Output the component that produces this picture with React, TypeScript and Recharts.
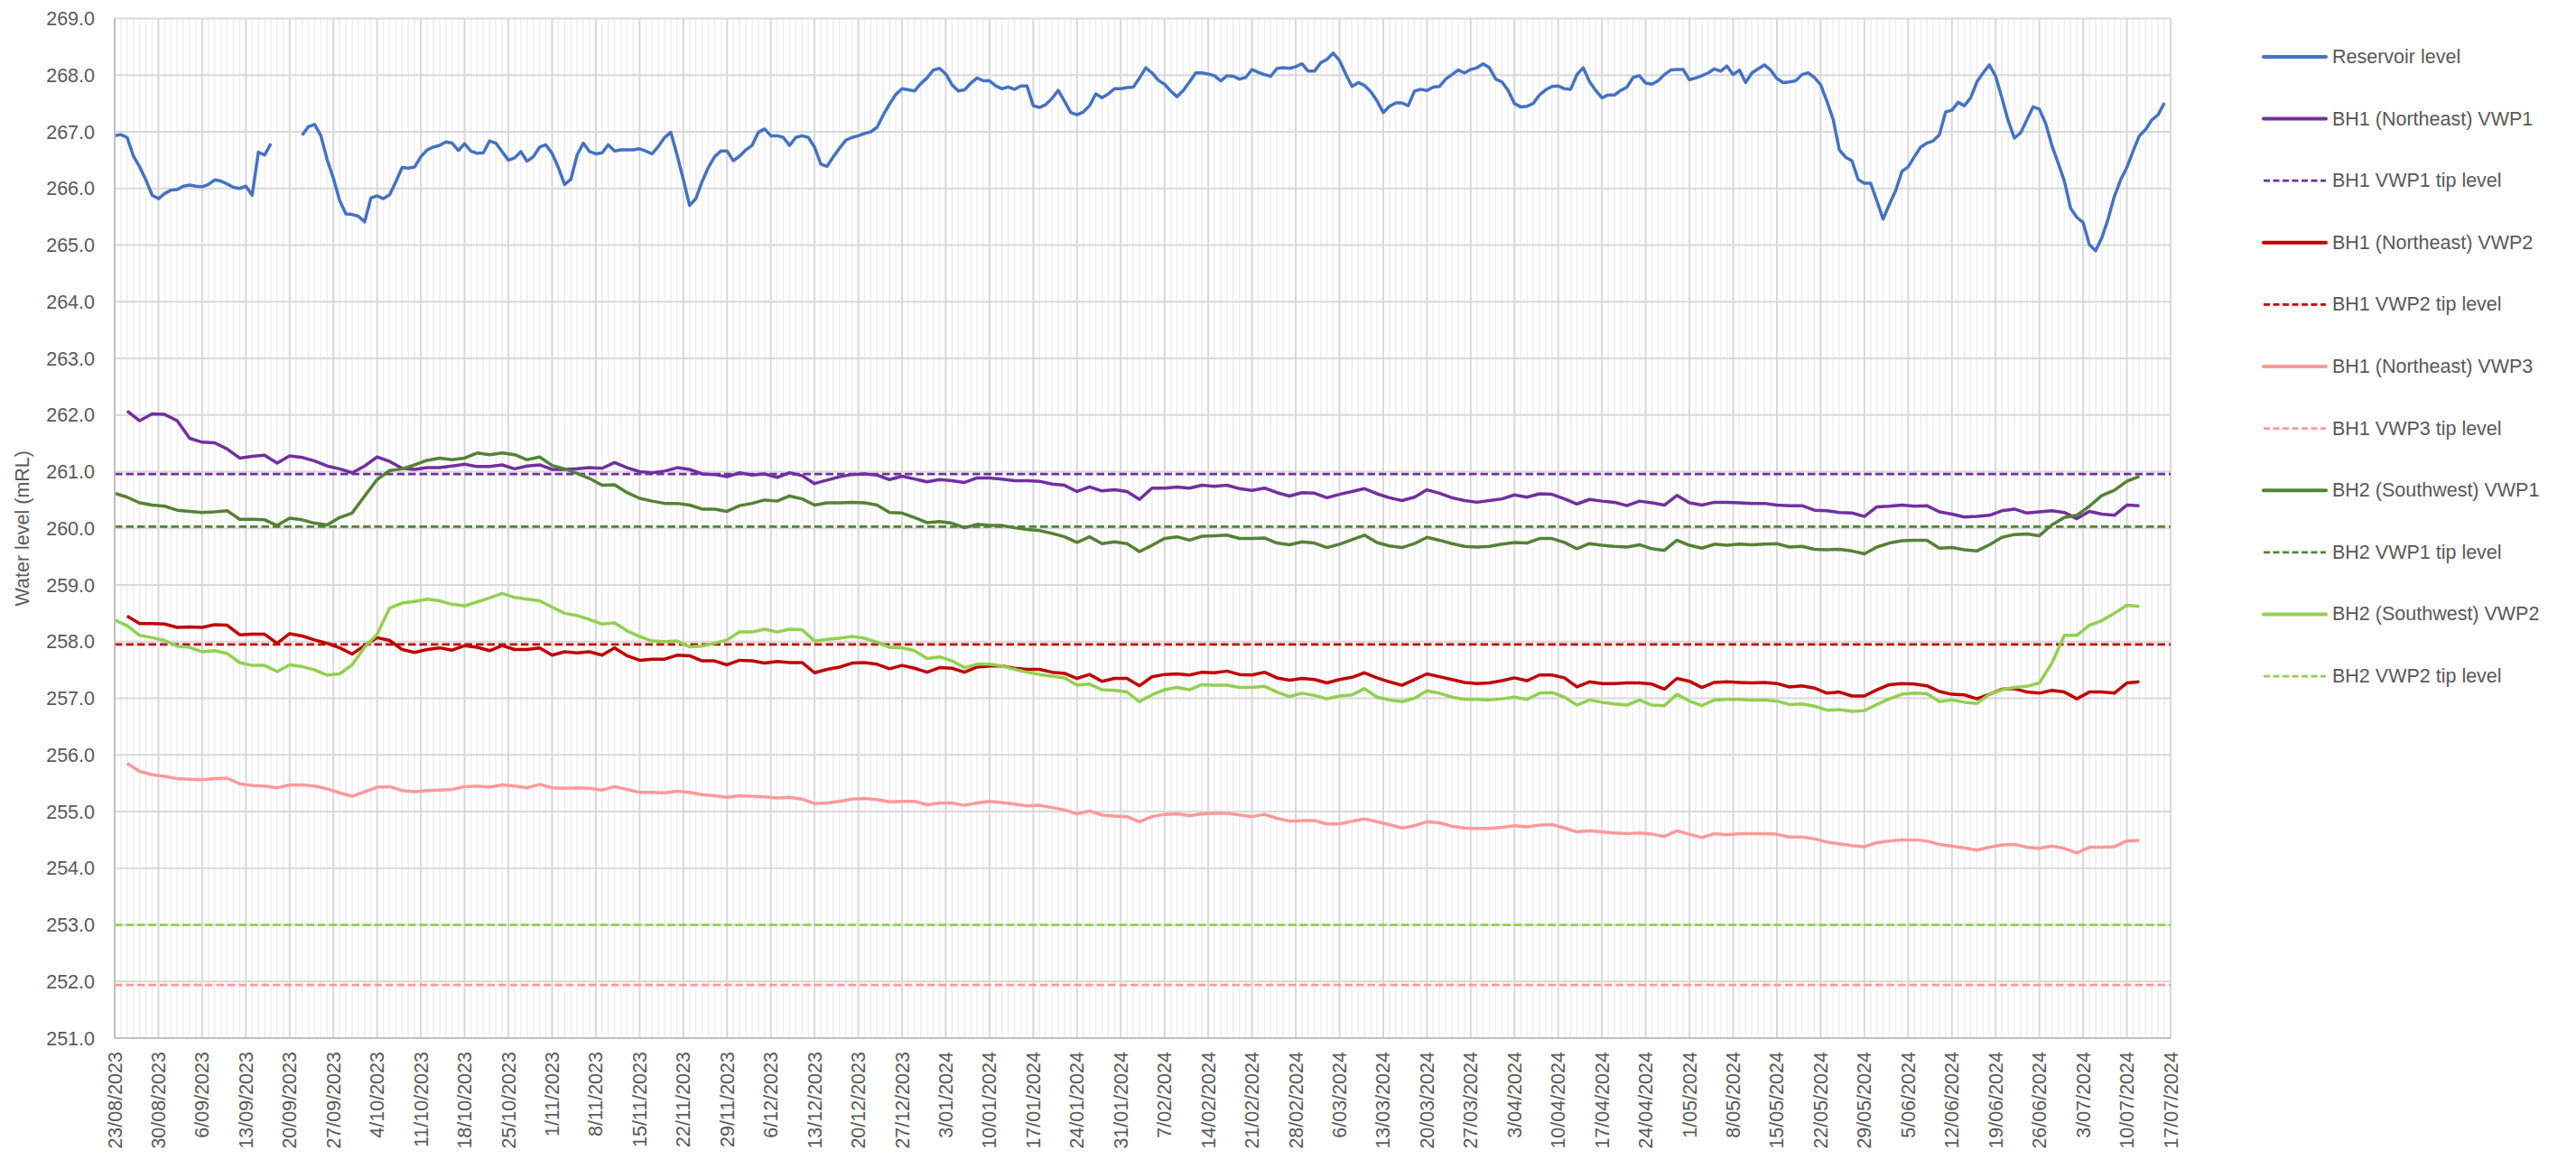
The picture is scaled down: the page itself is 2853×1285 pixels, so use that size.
import React from 'react';
import { LineChart, Line, XAxis, YAxis, CartesianGrid, ReferenceLine, Legend } from 'recharts';

// Weekly date tick labels (day 0 = 23/08/2023, one label every 7 days)
const tickLabels = [
  '23/08/2023', '30/08/2023', '6/09/2023', '13/09/2023', '20/09/2023', '27/09/2023',
  '4/10/2023', '11/10/2023', '18/10/2023', '25/10/2023', '1/11/2023', '8/11/2023',
  '15/11/2023', '22/11/2023', '29/11/2023', '6/12/2023', '13/12/2023', '20/12/2023',
  '27/12/2023', '3/01/2024', '10/01/2024', '17/01/2024', '24/01/2024', '31/01/2024',
  '7/02/2024', '14/02/2024', '21/02/2024', '28/02/2024', '6/03/2024', '13/03/2024',
  '20/03/2024', '27/03/2024', '3/04/2024', '10/04/2024', '17/04/2024', '24/04/2024',
  '1/05/2024', '8/05/2024', '15/05/2024', '22/05/2024', '29/05/2024', '5/06/2024',
  '12/06/2024', '19/06/2024', '26/06/2024', '3/07/2024', '10/07/2024', '17/07/2024',
];
const yTicks = [251, 252, 253, 254, 255, 256, 257, 258, 259, 260, 261, 262, 263, 264, 265, 266, 267, 268, 269];

// Reservoir level, one value per day from 23/08/2023 (null = no data)
const reservoirLevel = [
  266.93, 266.95, 266.90, 266.57, 266.38, 266.15, 265.88, 265.82, 265.91, 265.97,
  265.98, 266.04, 266.06, 266.04, 266.03, 266.07, 266.15, 266.13, 266.08, 266.02,
  266.00, 266.04, 265.88, 266.64, 266.59, 266.79, null, null, null, null,
  266.94, 267.09, 267.13, 266.93, 266.51, 266.18, 265.79, 265.55, 265.54, 265.51,
  265.41, 265.83, 265.87, 265.82, 265.89, 266.12, 266.37, 266.36, 266.38, 266.56,
  266.68, 266.73, 266.76, 266.82, 266.80, 266.67, 266.79, 266.66, 266.62, 266.63,
  266.84, 266.80, 266.65, 266.50, 266.54, 266.65, 266.48, 266.56, 266.73, 266.77,
  266.62, 266.37, 266.07, 266.16, 266.59, 266.80, 266.65, 266.61, 266.63, 266.77,
  266.66, 266.68, 266.68, 266.68, 266.70, 266.66, 266.61, 266.74, 266.90, 266.99,
  266.59, 266.16, 265.70, 265.82, 266.12, 266.37, 266.56, 266.66, 266.66, 266.49,
  266.57, 266.68, 266.76, 266.99, 267.05, 266.93, 266.93, 266.90, 266.76, 266.90,
  266.93, 266.90, 266.73, 266.43, 266.39, 266.56, 266.71, 266.85, 266.90, 266.93,
  266.97, 267.00, 267.08, 267.30, 267.49, 267.66, 267.76, 267.74, 267.72, 267.85,
  267.95, 268.09, 268.12, 268.02, 267.83, 267.72, 267.74, 267.86, 267.95, 267.90,
  267.90, 267.81, 267.76, 267.79, 267.75, 267.81, 267.81, 267.46, 267.43, 267.48,
  267.59, 267.73, 267.54, 267.34, 267.30, 267.35, 267.46, 267.67, 267.60, 267.67,
  267.76, 267.76, 267.78, 267.79, 267.95, 268.13, 268.04, 267.91, 267.84, 267.72,
  267.62, 267.73, 267.88, 268.04, 268.04, 268.02, 267.99, 267.90, 267.99, 267.98,
  267.93, 267.96, 268.10, 268.05, 268.01, 267.98, 268.12, 268.13, 268.12, 268.15,
  268.20, 268.07, 268.07, 268.22, 268.28, 268.39, 268.26, 268.02, 267.80, 267.87,
  267.82, 267.71, 267.55, 267.34, 267.45, 267.51, 267.51, 267.46, 267.72, 267.75,
  267.73, 267.79, 267.80, 267.93, 268.01, 268.09, 268.04, 268.10, 268.13, 268.20,
  268.13, 267.93, 267.88, 267.73, 267.50, 267.44, 267.45, 267.50, 267.65, 267.74,
  267.80, 267.81, 267.76, 267.75, 268.01, 268.13, 267.89, 267.73, 267.60, 267.65,
  267.65, 267.73, 267.79, 267.96, 267.99, 267.86, 267.84, 267.90, 268.01, 268.09,
  268.10, 268.10, 267.92, 267.95, 267.99, 268.04, 268.11, 268.07, 268.16, 268.01,
  268.09, 267.87, 268.04, 268.11, 268.18, 268.09, 267.94, 267.87, 267.88, 267.90,
  268.01, 268.04, 267.96, 267.83, 267.54, 267.22, 266.68, 266.55, 266.49, 266.16,
  266.09, 266.09, 265.78, 265.46, 265.72, 265.96, 266.30, 266.38, 266.56, 266.73,
  266.80, 266.84, 266.95, 267.35, 267.38, 267.52, 267.46, 267.60, 267.88, 268.04,
  268.18, 267.98, 267.60, 267.20, 266.89, 266.98, 267.21, 267.44, 267.40, 267.15,
  266.76, 266.45, 266.13, 265.65, 265.49, 265.40, 265.01, 264.90, 265.13, 265.46,
  265.86, 266.15, 266.37, 266.66, 266.93, 267.04, 267.21, 267.30, 267.51,
];

// VWP readings, one value every 2 days from 23/08/2023 (index i = day 2*i)
const bh1Vwp1 = [
  null, 262.07, 261.90, 262.02, 262.01, 261.90, 261.59, 261.52, 261.51, 261.40,
  261.24, 261.27, 261.29, 261.15, 261.28, 261.25, 261.19, 261.10, 261.05, 260.98,
  261.10, 261.26, 261.18, 261.06, 261.04, 261.07, 261.07, 261.10, 261.13, 261.09,
  261.09, 261.12, 261.05, 261.10, 261.12, 261.04, 261.04, 261.05, 261.07, 261.06,
  261.16, 261.07, 261.00, 260.98, 261.01, 261.07, 261.04, 260.96, 260.95, 260.91,
  260.98, 260.94, 260.96, 260.90, 260.98, 260.93,
  260.79, 260.85, 260.91, 260.95, 260.96, 260.94, 260.86, 260.92, 260.87, 260.82,
  260.86, 260.84, 260.81, 260.89, 260.89, 260.87, 260.84, 260.84, 260.83, 260.78,
  260.76, 260.65, 260.73, 260.66, 260.68, 260.65, 260.51, 260.71, 260.71, 260.73,
  260.71, 260.76, 260.74, 260.76, 260.70, 260.67, 260.71, 260.63, 260.57, 260.63,
  260.62, 260.54, 260.60, 260.65, 260.70, 260.61, 260.54, 260.49, 260.55, 260.68,
  260.62, 260.54, 260.49, 260.46, 260.49, 260.52,
  260.59, 260.55, 260.61, 260.60, 260.52, 260.43, 260.51, 260.48, 260.46, 260.40,
  260.48, 260.45, 260.41, 260.58, 260.45, 260.41, 260.46, 260.46, 260.45, 260.44,
  260.44, 260.41, 260.40, 260.40, 260.32, 260.31, 260.28, 260.27, 260.21, 260.38,
  260.39, 260.41, 260.39, 260.40, 260.29, 260.25, 260.20, 260.21, 260.23, 260.31,
  260.34, 260.27, 260.29, 260.31, 260.28, 260.17, 260.30, 260.25, 260.23, 260.41,
  260.40,
];

const bh1Vwp2 = [
  null, 258.45, 258.32, 258.32, 258.31, 258.25, 258.26, 258.25, 258.30, 258.29,
  258.12, 258.13, 258.13, 257.97, 258.14, 258.10, 258.03, 257.97, 257.89, 257.78,
  257.93, 258.07, 258.02, 257.86, 257.81, 257.86, 257.89, 257.85, 257.93, 257.90,
  257.84, 257.93, 257.86, 257.86, 257.89, 257.76, 257.82, 257.80, 257.82, 257.76,
  257.89, 257.75, 257.67, 257.69, 257.69, 257.76, 257.75, 257.66, 257.66, 257.59,
  257.67, 257.66, 257.62, 257.65, 257.63, 257.63,
  257.45, 257.51, 257.55, 257.62, 257.63, 257.60, 257.52, 257.58, 257.53, 257.46,
  257.54, 257.53, 257.46, 257.55, 257.57, 257.57, 257.53, 257.51, 257.51, 257.46,
  257.44, 257.35, 257.42, 257.30, 257.35, 257.35, 257.22, 257.38, 257.42, 257.43,
  257.41, 257.46, 257.45, 257.48, 257.42, 257.41, 257.46, 257.36, 257.32, 257.35,
  257.33, 257.27, 257.33, 257.37, 257.45, 257.36, 257.29, 257.23, 257.33, 257.43,
  257.38, 257.33, 257.28, 257.26, 257.27, 257.31,
  257.36, 257.31, 257.41, 257.41, 257.36, 257.20, 257.29, 257.26, 257.26, 257.27,
  257.27, 257.25, 257.16, 257.35, 257.30, 257.19, 257.28, 257.29, 257.28, 257.27,
  257.28, 257.26, 257.20, 257.22, 257.18, 257.09, 257.11, 257.04, 257.04, 257.15,
  257.24, 257.26, 257.25, 257.22, 257.12, 257.07, 257.06, 256.99, 257.07, 257.16,
  257.17, 257.11, 257.09, 257.14, 257.11, 256.99, 257.11, 257.11, 257.09, 257.27,
  257.29,
];

const bh1Vwp3 = [
  null, 255.85, 255.71, 255.65, 255.62, 255.58, 255.57, 255.56, 255.58, 255.59,
  255.49, 255.46, 255.45, 255.42, 255.47, 255.47, 255.45, 255.40, 255.33, 255.27,
  255.35, 255.43, 255.44, 255.37, 255.35, 255.37, 255.38, 255.39, 255.44, 255.45,
  255.43, 255.47, 255.45, 255.42, 255.48, 255.42, 255.41, 255.42, 255.41, 255.38,
  255.44, 255.39, 255.34, 255.34, 255.33, 255.36, 255.34, 255.30, 255.28, 255.25,
  255.28, 255.27, 255.26, 255.24, 255.25, 255.22,
  255.14, 255.15, 255.18, 255.22, 255.23, 255.21, 255.17, 255.18, 255.18, 255.12,
  255.15, 255.15, 255.11, 255.15, 255.18, 255.16, 255.13, 255.10, 255.11, 255.07,
  255.03, 254.96, 255.01, 254.94, 254.92, 254.91, 254.82, 254.91, 254.95, 254.96,
  254.93, 254.96, 254.97, 254.97, 254.94, 254.91, 254.95, 254.88, 254.83, 254.84,
  254.84, 254.78, 254.78, 254.83, 254.87, 254.82, 254.77, 254.71, 254.75, 254.82,
  254.80, 254.74, 254.71, 254.70, 254.70, 254.72,
  254.75, 254.73, 254.76, 254.77, 254.71, 254.64, 254.66, 254.64, 254.62, 254.61,
  254.62, 254.60, 254.56, 254.66, 254.60, 254.54, 254.61, 254.59, 254.61, 254.61,
  254.61, 254.60, 254.55, 254.55, 254.52, 254.46, 254.43, 254.40, 254.38, 254.45,
  254.48, 254.50, 254.50, 254.48, 254.42, 254.39, 254.36, 254.32, 254.37, 254.41,
  254.42, 254.37, 254.35, 254.39, 254.35, 254.27, 254.37, 254.37, 254.38, 254.48,
  254.49,
];

const bh2Vwp1 = [
  260.62, 260.55, 260.45, 260.41, 260.39, 260.32, 260.30, 260.28, 260.29, 260.31,
  260.16, 260.16, 260.15, 260.05, 260.18, 260.15, 260.09, 260.06, 260.19, 260.27,
  260.57, 260.86, 261.02, 261.05, 261.12, 261.20, 261.24, 261.21, 261.24, 261.33,
  261.30, 261.33, 261.30, 261.21, 261.26, 261.11, 261.05, 260.97, 260.88, 260.76,
  260.77, 260.63, 260.53, 260.48, 260.44, 260.44, 260.41, 260.34, 260.34, 260.30,
  260.40, 260.44, 260.50, 260.48, 260.57, 260.52,
  260.41, 260.45, 260.45, 260.46, 260.45, 260.41, 260.28, 260.27, 260.19, 260.10,
  260.12, 260.09, 260.01, 260.07, 260.05, 260.05, 260.01, 259.98, 259.96, 259.91,
  259.85, 259.75, 259.85, 259.73, 259.76, 259.73, 259.59, 259.70, 259.82, 259.85,
  259.79, 259.86, 259.87, 259.88, 259.82, 259.82, 259.83, 259.74, 259.71, 259.76,
  259.74, 259.66, 259.72, 259.80, 259.88, 259.75, 259.69, 259.66, 259.73, 259.84,
  259.79, 259.73, 259.68, 259.67, 259.68, 259.72,
  259.75, 259.74, 259.82, 259.82, 259.75, 259.64, 259.73, 259.70, 259.68, 259.67,
  259.71, 259.64, 259.61, 259.79, 259.70, 259.65, 259.72, 259.70, 259.72, 259.71,
  259.72, 259.73, 259.67, 259.68, 259.63, 259.62, 259.63, 259.60, 259.55, 259.67,
  259.74, 259.78, 259.79, 259.79, 259.65, 259.66, 259.62, 259.60, 259.71, 259.84,
  259.89, 259.90, 259.87, 260.06, 260.19, 260.23, 260.39, 260.58, 260.67, 260.83,
  260.92,
];

const bh2Vwp2 = [
  258.38, 258.28, 258.11, 258.07, 258.02, 257.92, 257.90, 257.82, 257.84, 257.79,
  257.63, 257.58, 257.58, 257.47, 257.59, 257.56, 257.50, 257.41, 257.43, 257.59,
  257.90, 258.13, 258.59, 258.68, 258.71, 258.75, 258.72, 258.66, 258.63, 258.70,
  258.77, 258.85, 258.78, 258.75, 258.72, 258.61, 258.50, 258.46, 258.39, 258.31,
  258.33, 258.19, 258.09, 258.01, 258.00, 258.01, 257.91, 257.92, 257.97, 258.03,
  258.17, 258.17, 258.22, 258.17, 258.22, 258.21,
  258.01, 258.04, 258.06, 258.09, 258.06, 257.99, 257.90, 257.89, 257.84, 257.70,
  257.73, 257.66, 257.54, 257.60, 257.60, 257.57, 257.51, 257.46, 257.42, 257.39,
  257.36, 257.23, 257.25, 257.15, 257.14, 257.11, 256.94, 257.06, 257.15, 257.19,
  257.15, 257.24, 257.23, 257.23, 257.19, 257.19, 257.21, 257.11, 257.03, 257.09,
  257.05, 256.99, 257.04, 257.06, 257.17, 257.02, 256.97, 256.94, 257.00, 257.13,
  257.09, 257.02, 256.98, 256.98, 256.97, 256.99,
  257.02, 256.98, 257.09, 257.10, 257.02, 256.88, 256.97, 256.93, 256.90, 256.88,
  256.97, 256.88, 256.87, 257.07, 256.95, 256.87, 256.97, 256.98, 256.98, 256.97,
  256.97, 256.95, 256.89, 256.90, 256.86, 256.79, 256.80, 256.77, 256.78, 256.89,
  256.99, 257.07, 257.09, 257.08, 256.94, 256.97, 256.93, 256.91, 257.07, 257.15,
  257.19, 257.21, 257.27, 257.62, 258.11, 258.11, 258.29, 258.37, 258.50, 258.64,
  258.62,
];

// Tip levels (constant reference elevations)
const tipLevels = {
  bh1Vwp1: 260.96,
  bh1Vwp2: 257.95,
  bh1Vwp3: 251.94,
  bh2Vwp1: 260.03,
  bh2Vwp2: 253.0,
};

const COLORS = {
  reservoir: '#4472C4',
  bh1Vwp1: '#7030A0',
  bh1Vwp2: '#C00000',
  bh1Vwp3: '#FF9999',
  bh2Vwp1: '#548235',
  bh2Vwp2: '#92D050',
};

const legendItems = [
  { name: 'Reservoir level', color: COLORS.reservoir, dashed: false },
  { name: 'BH1 (Northeast) VWP1', color: COLORS.bh1Vwp1, dashed: false },
  { name: 'BH1 VWP1 tip level', color: COLORS.bh1Vwp1, dashed: true },
  { name: 'BH1 (Northeast) VWP2', color: COLORS.bh1Vwp2, dashed: false },
  { name: 'BH1 VWP2 tip level', color: COLORS.bh1Vwp2, dashed: true },
  { name: 'BH1 (Northeast) VWP3', color: COLORS.bh1Vwp3, dashed: false },
  { name: 'BH1 VWP3 tip level', color: COLORS.bh1Vwp3, dashed: true },
  { name: 'BH2 (Southwest) VWP1', color: COLORS.bh2Vwp1, dashed: false },
  { name: 'BH2 VWP1 tip level', color: COLORS.bh2Vwp1, dashed: true },
  { name: 'BH2 (Southwest) VWP2', color: COLORS.bh2Vwp2, dashed: false },
  { name: 'BH2 VWP2 tip level', color: COLORS.bh2Vwp2, dashed: true },
];

const DAYS_SPAN = (tickLabels.length - 1) * 7;
const weekTicks = tickLabels.map((_, i) => i * 7);
const allDays = Array.from({ length: DAYS_SPAN + 1 }, (_, i) => i);

const data = reservoirLevel.map((r, d) => {
  const row: any = { day: d, reservoir: r };
  if (d % 2 === 0) {
    const i = d / 2;
    if (i < bh1Vwp1.length) {
      row.bh1Vwp1 = bh1Vwp1[i];
      row.bh1Vwp2 = bh1Vwp2[i];
      row.bh1Vwp3 = bh1Vwp3[i];
      row.bh2Vwp1 = bh2Vwp1[i];
      row.bh2Vwp2 = bh2Vwp2[i];
    }
  }
  return row;
});

const FONT = '"Liberation Sans", Arial, sans-serif';
const TEXT = '#595959';
const FS = 21.5;

const XTick = (props: any) => {
  const { x, y, payload } = props;
  const label = tickLabels[Math.round(payload.value / 7)];
  return (
    <text
      x={x}
      y={y}
      transform={`rotate(-90 ${x} ${y})`}
      textAnchor="end"
      dy="0.35em"
      fill={TEXT}
      fontSize={FS}
      fontFamily={FONT}
    >
      {label}
    </text>
  );
};

const YLabel = (props: any) => {
  const vb = props.viewBox || { x: 0, y: 12.5, width: 119, height: 1129.5 };
  const cx = 17;
  const cy = vb.y + vb.height / 2;
  return (
    <text
      x={cx}
      y={cy}
      transform={`rotate(-90 ${cx} ${cy})`}
      textAnchor="middle"
      dominantBaseline="central"
      fill={TEXT}
      fontSize={FS}
      fontFamily={FONT}
    >
      Water level (mRL)
    </text>
  );
};

const LegendBox = () => {
  const rowStart = 55;
  const rowGap = 68.6;
  return (
    <svg width={340} height={780} style={{ display: 'block', overflow: 'visible' }}>
      {legendItems.map((item, i) => {
        const cy = rowStart + i * rowGap;
        return (
          <g key={item.name}>
            <line
              x1={10}
              x2={79}
              y1={cy}
              y2={cy}
              stroke={item.color}
              strokeWidth={item.dashed ? 2.75 : 4}
              strokeDasharray={item.dashed ? '7 3.5' : undefined}
              strokeLinecap={item.dashed ? 'butt' : 'round'}
            />
            <text
              x={86}
              y={cy}
              dominantBaseline="central"
              fill={TEXT}
              fontSize={FS}
              fontFamily={FONT}
            >
              {item.name}
            </text>
          </g>
        );
      })}
    </svg>
  );
};

const minorVerticals = (props: any) => {
  const { offset, xAxis } = props || {};
  const s = xAxis && xAxis.scale;
  return allDays.map((d) => {
    let v: any = undefined;
    if (typeof s === 'function') v = s(d);
    if (!Number.isFinite(v) && offset) v = offset.left + (d / DAYS_SPAN) * offset.width;
    return v;
  });
};

export default function App() {
  return (
    <div style={{ width: 2837, height: 1269, background: '#fff' }}>
      <LineChart
        width={2837}
        height={1269}
        data={data}
        margin={{ top: 12.5, right: 101, bottom: 0, left: 0 }}
      >
        <CartesianGrid
          horizontal={false}
          verticalCoordinatesGenerator={minorVerticals}
          stroke="#EEEEEE"
          strokeWidth={1.5}
        />
        <CartesianGrid stroke="#D9D9D9" strokeWidth={2} />
        <XAxis
          dataKey="day"
          type="number"
          domain={[0, DAYS_SPAN]}
          ticks={weekTicks}
          interval={0}
          allowDataOverflow
          height={127}
          tickSize={0}
          tickMargin={15}
          tickLine={false}
          axisLine={{ stroke: '#BFBFBF', strokeWidth: 2 }}
          tick={<XTick />}
        />
        <YAxis
          type="number"
          domain={[251, 269]}
          ticks={yTicks}
          interval={0}
          allowDataOverflow
          width={119}
          tickSize={0}
          tickMargin={22}
          tickLine={false}
          axisLine={{ stroke: '#BFBFBF', strokeWidth: 2 }}
          tickFormatter={(v: number) => v.toFixed(1)}
          tick={{ fill: TEXT, fontSize: FS, fontFamily: FONT }}
          label={<YLabel />}
        />
        <Line dataKey="reservoir" stroke={COLORS.reservoir} strokeWidth={3.5} dot={false} activeDot={false} isAnimationActive={false} strokeLinejoin="round" />
        <Line dataKey="bh1Vwp1" stroke={COLORS.bh1Vwp1} strokeWidth={3.5} dot={false} activeDot={false} connectNulls isAnimationActive={false} strokeLinejoin="round" />
        <ReferenceLine y={tipLevels.bh1Vwp1} stroke={COLORS.bh1Vwp1} strokeWidth={2.75} strokeDasharray="8.5 4" />
        <Line dataKey="bh1Vwp2" stroke={COLORS.bh1Vwp2} strokeWidth={3.5} dot={false} activeDot={false} connectNulls isAnimationActive={false} strokeLinejoin="round" />
        <ReferenceLine y={tipLevels.bh1Vwp2} stroke={COLORS.bh1Vwp2} strokeWidth={2.75} strokeDasharray="8.5 4" />
        <Line dataKey="bh1Vwp3" stroke={COLORS.bh1Vwp3} strokeWidth={3.5} dot={false} activeDot={false} connectNulls isAnimationActive={false} strokeLinejoin="round" />
        <ReferenceLine y={tipLevels.bh1Vwp3} stroke={COLORS.bh1Vwp3} strokeWidth={2.75} strokeDasharray="8.5 4" />
        <Line dataKey="bh2Vwp1" stroke={COLORS.bh2Vwp1} strokeWidth={3.5} dot={false} activeDot={false} connectNulls isAnimationActive={false} strokeLinejoin="round" />
        <ReferenceLine y={tipLevels.bh2Vwp1} stroke={COLORS.bh2Vwp1} strokeWidth={2.75} strokeDasharray="8.5 4" />
        <Line dataKey="bh2Vwp2" stroke={COLORS.bh2Vwp2} strokeWidth={3.5} dot={false} activeDot={false} connectNulls isAnimationActive={false} strokeLinejoin="round" />
        <ReferenceLine y={tipLevels.bh2Vwp2} stroke={COLORS.bh2Vwp2} strokeWidth={2.75} strokeDasharray="8.5 4" />
        <Legend
          layout="vertical"
          align="right"
          verticalAlign="top"
          width={340}
          wrapperStyle={{ position: 'absolute', left: 2489, right: 'auto', top: 0, width: 340, height: 780 }}
          content={() => <LegendBox />}
        />
      </LineChart>
    </div>
  );
}
